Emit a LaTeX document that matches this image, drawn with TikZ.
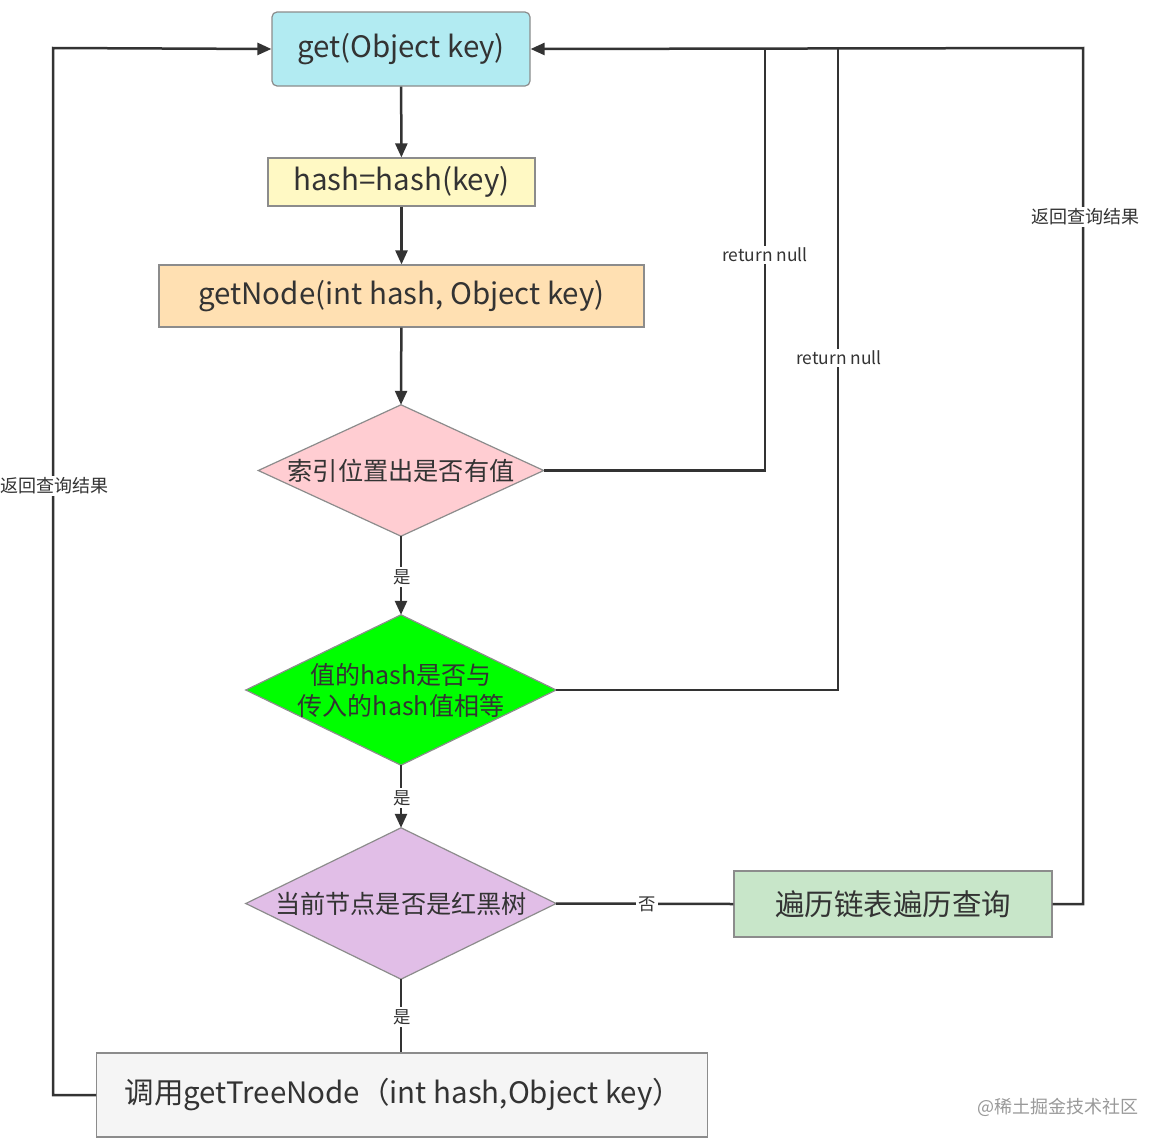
\documentclass[tikz,border=0pt]{standalone}
\usepackage{fontspec}
\setmainfont{Noto Sans CJK SC}
\usetikzlibrary{arrows.meta}
\definecolor{ink}{HTML}{333333}
\definecolor{bord}{HTML}{8C8C8C}
\definecolor{cget}{HTML}{B2EBF2}
\definecolor{chash}{HTML}{FFF9C4}
\definecolor{cnode}{HTML}{FFE0B2}
\definecolor{cdone}{HTML}{FFCDD2}
\definecolor{cdtwo}{HTML}{00FF00}
\definecolor{cdthree}{HTML}{E1BEE7}
\definecolor{ctrav}{HTML}{C8E6C9}
\definecolor{ctree}{HTML}{F5F5F5}
\tikzset{
  boxst/.style={draw=bord, line width=1.2pt, inner sep=0pt, text=ink},
  dia/.style={rectangle, inner sep=0pt, text=ink, align=center},
  diaborder/.style={draw=bord, line width=1.2pt, line join=miter},
  conn/.style={draw=ink, line width=2.5pt},
  arr/.style={conn, -{Triangle[length=14pt,width=12pt]}},
  lbl/.style={fill=white, text=ink, inner sep=2pt, font=\fontsize{17.4}{20}\selectfont},
  big/.style={font=\fontsize{29.5}{34}\selectfont},
}
\begin{document}
\begin{tikzpicture}[x=1pt,y=-1pt]
\useasboundingbox (0,0) rectangle (1168,1146);
\fill[white] (0,0) rectangle (1168,1146);
% nodes
\node[boxst, rounded corners=5pt, fill=cget, minimum width=258pt, minimum height=74pt, big] (get) at (401,49) {get(Object key)};
\node[boxst, fill=chash, minimum width=267pt, minimum height=48pt, big] (hash) at (401.5,182) {hash=hash(key)};
\node[boxst, fill=cnode, minimum width=485pt, minimum height=62pt, big] (gnode) at (401.5,296) {getNode(int hash, Object key)};
% diamonds: anchors of an invisible box, outline drawn through its side midpoints
\node[dia, minimum width=285pt, minimum height=131pt] (d1) at (401,470.5) {};
\filldraw[diaborder, fill=cdone] (d1.north) -- (d1.east) -- (d1.south) -- (d1.west) -- cycle;
\node[dia, font=\fontsize{25.2}{29}\selectfont] (d1t) at (d1.center) {索引位置出是否有值};
\node[dia, minimum width=310pt, minimum height=150pt] (d2) at (401,690) {};
\filldraw[diaborder, fill=cdtwo] (d2.north) -- (d2.east) -- (d2.south) -- (d2.west) -- cycle;
\node[dia, font=\fontsize{25}{31}\selectfont] (d2t) at (d2.center) {值的hash是否与\\传入的hash值相等};
\node[dia, minimum width=310pt, minimum height=151pt] (d3) at (401,903.5) {};
\filldraw[diaborder, fill=cdthree] (d3.north) -- (d3.east) -- (d3.south) -- (d3.west) -- cycle;
\node[dia, font=\fontsize{25.2}{29}\selectfont] (d3t) at (d3.center) {当前节点是否是红黑树};
\node[boxst, fill=ctrav, minimum width=318pt, minimum height=66pt, font=\fontsize{29.5}{34}\selectfont] (trav) at (893,904) {遍历链表遍历查询};
\node[boxst, fill=ctree, inner xsep=28pt, minimum height=84pt, big, anchor=west] (tree) at (96,1095) {\makebox[555pt][l]{调用getTreeNode（int hash,Object key）}};
% coordinates
\coordinate (jA) at (765,48);
\coordinate (jB) at (838,48);
\coordinate (jC) at (1083,48);
\coordinate (jL) at (53,48);
% main flow
\draw[arr] (get) -- (hash);
\draw[arr] (hash) -- (gnode);
\draw[arr] (gnode) -- (d1.north);
\draw[arr] (d1.south) -- (d2.north);
\draw[arr] (d2.south) -- (d3.north);
\draw[conn] (d3.south) -- (tree.north -| d3);
\draw[conn] (d3.east) -- (trav.west);
% returns
\draw[conn] (d1.east) -| (jA);
\draw[conn] (d2.east) -| (jB);
\draw[arr] (trav.east) -| (jC) -- (get.east);
\draw[arr] (tree.west) -| (jL) -- (get.west);
% labels
\node[lbl] (y1) at (402,577) {是};
\node[lbl] (y2) at (402,798) {是};
\node[lbl] (y3) at (402,1017) {是};
\node[lbl] (n1) at (647,904) {否};
\node[lbl] (rn1) at (765,255) {return null};
\node[lbl] (rn2) at (839,358) {return null};
\node[lbl, font=\fontsize{18}{21}\selectfont] (rr) at (1085,217) {返回查询结果};
\node[lbl, font=\fontsize{18}{21}\selectfont] (rl) at (55,486) {返回查询结果};
\node[text=black!40, font=\fontsize{18}{21}\selectfont] (wm) at (1058,1107) {@稀土掘金技术社区};
\end{tikzpicture}
\end{document}
